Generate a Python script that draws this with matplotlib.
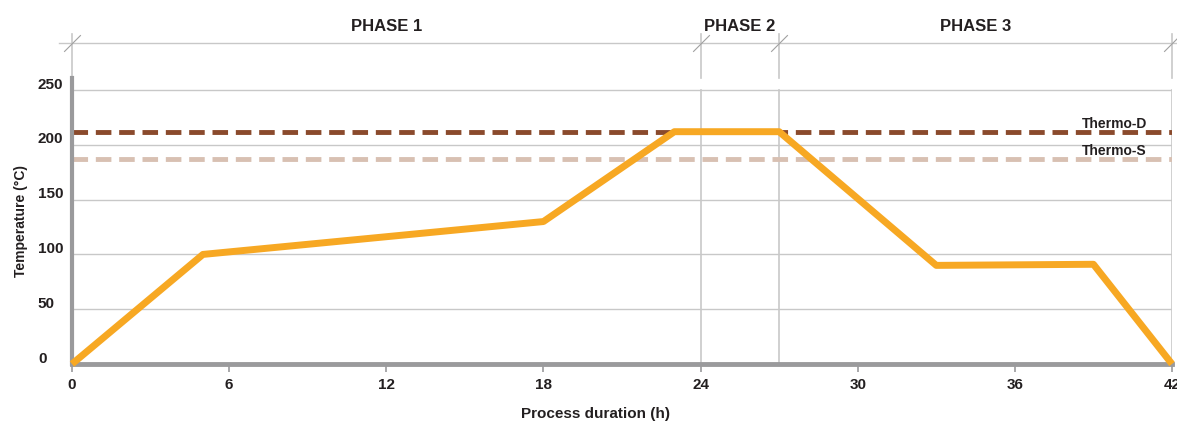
import numpy as np
import matplotlib.pyplot as plt
from matplotlib.transforms import ScaledTranslation, blended_transform_factory

plt.rcParams['font.family'] = ['Liberation Sans', 'DejaVu Sans']
plt.rcParams['font.weight'] = 'bold'

# process profile
hours = [0, 5, 18, 23, 27, 33, 39, 42]
temps = [0, 100, 130, 212, 212, 90, 91, 0]

thermo_d = 212
thermo_s = 187

phase_edges = [0, 24, 27, 42]
phase_names = ['PHASE 1', 'PHASE 2', 'PHASE 3']

xticks = [0, 6, 12, 18, 24, 30, 36, 42]
yticks = [0, 50, 100, 150, 200, 250]

TEXT = '#231f20'
GRID = '#c8c8c8'
AXIS = '#9a9a9c'

fig = plt.figure(figsize=(11.77, 4.26), dpi=100)
ax = fig.add_axes([72 / 1177, 1 - 364 / 426, 1100 / 1177, 286 / 426])
ax.set_xlim(0, 42)
ax.set_ylim(0, 261)

# grid
for y in yticks[1:]:
    ax.axhline(y, color=GRID, lw=1, zorder=1)
for x in phase_edges[1:]:
    ax.plot([x, x], [0, 250], color=GRID, lw=1.2, zorder=1)

# thresholds
ax.axhline(thermo_s, color='#d8c0b2', lw=3.5, dashes=(3.2, 1.6), zorder=2)
ax.axhline(thermo_d, color='#8a4a2c', lw=3.5, dashes=(3.2, 1.6), zorder=2)
ax.text(39.8, thermo_d + 1, 'Thermo-D', ha='center', va='bottom', fontsize=10, color=TEXT)
ax.text(39.8, thermo_s + 1, 'Thermo-S', ha='center', va='bottom', fontsize=10, color=TEXT)

# profile
ax.plot(hours, temps, color='#f7a823', lw=5, solid_capstyle='butt', zorder=4, clip_on=False)

# axes styling
for s in ['top', 'right']:
    ax.spines[s].set_visible(False)
ax.spines['left'].set_color(AXIS)
ax.spines['left'].set_linewidth(3)
ax.spines['bottom'].set_color(AXIS)
ax.spines['bottom'].set_linewidth(3.5)

ax.set_xticks(xticks)
ax.set_xticklabels([str(v) for v in xticks], fontsize=11, color=TEXT)
ax.tick_params(axis='x', length=6, width=1.2, color=AXIS, pad=4)
ax.set_yticks(yticks)
ax.set_yticklabels([str(v) for v in yticks], fontsize=11, color=TEXT, ha='left')
ax.tick_params(axis='y', length=0, pad=24.5)
for lab in ax.get_yticklabels():
    lab.set_transform(lab.get_transform() + ScaledTranslation(0, 5 / 72, fig.dpi_scale_trans))

ax.set_xlabel('Process duration (h)', fontsize=11, color=TEXT, fontweight='bold')
ax.xaxis.set_label_coords(20 / 42, -0.15)
ax.set_ylabel('Temperature (°C)', fontsize=10, color=TEXT, fontweight='bold')
ax.yaxis.set_label_coords(-0.04, 0.5)

# phase bracket above plot
trans = blended_transform_factory(ax.transData, ax.transAxes)
line_y = (364 - 43) / 286
ax.plot([-0.5, 42.2], [line_y, line_y], color=GRID, lw=1, transform=trans, clip_on=False)
for x in phase_edges:
    ax.plot([x, x], [1.0, line_y + 0.03], color=GRID, lw=1.2,
            transform=trans, clip_on=False, zorder=0)
    ax.plot([x], [line_y], marker=[(-1, -1), (1, 1)], ms=12, mew=0.8, color='#a0a0a0',
            transform=trans, clip_on=False)
for i, name in enumerate(phase_names):
    mid = (phase_edges[i] + phase_edges[i + 1]) / 2
    ax.text(mid, line_y + 0.03, name, ha='center', va='bottom', fontsize=12,
            color=TEXT, transform=trans)

fig.savefig('out.png', dpi=100)
